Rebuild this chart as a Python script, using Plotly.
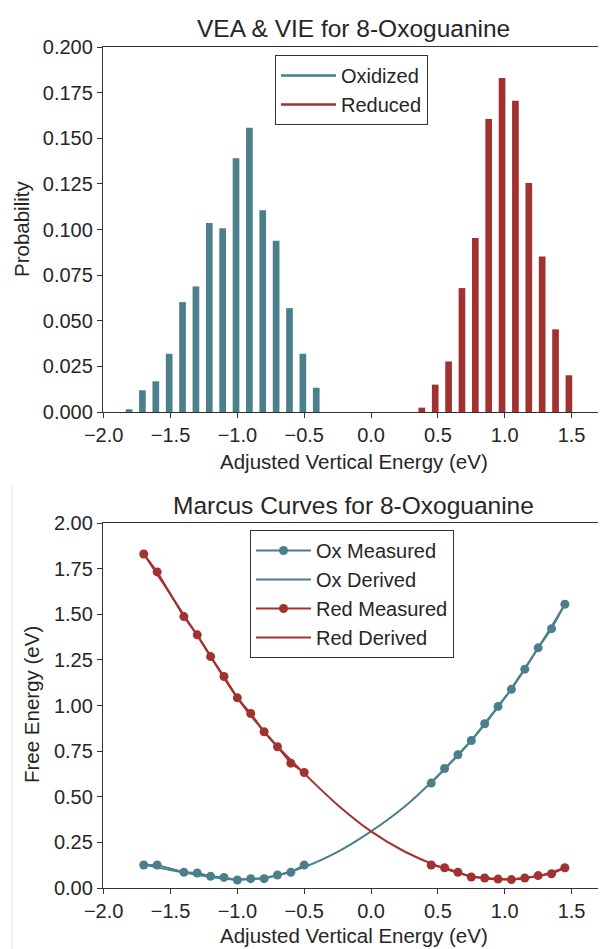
import plotly.graph_objects as go

# page body has an 8px margin: the figure is sized/positioned to compensate
OFF = 8
W, H = 606 - OFF, 949 - OFF

# ---------------- data ----------------
ox_bin_x = [-1.81, -1.71, -1.61, -1.51, -1.41, -1.31, -1.21, -1.11, -1.01, -0.91, -0.81, -0.71, -0.61, -0.51, -0.41]
ox_prob = [0.0015, 0.0119, 0.0168, 0.0319, 0.0602, 0.0688, 0.1036, 0.1007, 0.1390, 0.1557, 0.1106, 0.0938, 0.0569, 0.0319, 0.0133]

red_bin_x = [0.38, 0.48, 0.58, 0.68, 0.78, 0.88, 0.98, 1.08, 1.18, 1.28, 1.38, 1.48]
red_prob = [0.0024, 0.0150, 0.0277, 0.0679, 0.0954, 0.1606, 0.1830, 0.1706, 0.1255, 0.0852, 0.0453, 0.0201]

meas_left_x = [-1.7, -1.6, -1.4, -1.3, -1.2, -1.1, -1.0, -0.9, -0.8, -0.7, -0.6, -0.5]
meas_right_x = [0.45, 0.55, 0.65, 0.75, 0.85, 0.95, 1.05, 1.15, 1.25, 1.35, 1.45]

ox_meas_left = [0.126, 0.126, 0.086, 0.082, 0.064, 0.058, 0.044, 0.051, 0.051, 0.071, 0.086, 0.126]
ox_meas_right = [0.575, 0.655, 0.730, 0.808, 0.900, 0.995, 1.089, 1.199, 1.316, 1.421, 1.555]
red_meas_left = [1.830, 1.732, 1.487, 1.387, 1.268, 1.159, 1.042, 0.956, 0.856, 0.774, 0.684, 0.633]
red_meas_right = [0.126, 0.111, 0.086, 0.060, 0.055, 0.049, 0.046, 0.055, 0.068, 0.078, 0.111]

derived_x = [-1.7, -1.5, -1.25, -1.0, -0.75, -0.5, -0.25, 0.0, 0.25, 0.5, 0.75, 1.0, 1.25, 1.45]
ox_derived = [0.128, 0.098, 0.066, 0.046, 0.062, 0.115, 0.198, 0.310, 0.445, 0.615, 0.808, 1.042, 1.316, 1.555]
red_derived = [1.830, 1.608, 1.327, 1.042, 0.815, 0.628, 0.455, 0.310, 0.200, 0.120, 0.064, 0.046, 0.066, 0.111]

top_xticks = [-2.0, -1.5, -1.0, -0.5, 0.0, 0.5, 1.0, 1.5]

# ---------------- style ----------------
TEAL = "#4b7f8c"
RED = "#a23230"
FONT = "Liberation Sans, Arial, sans-serif"
TXT = "#262626"
AX = "#333333"


def px_x(p):
    return (p - OFF) / W


def px_y(p):
    return 1 - (p - OFF) / H


fig = go.Figure()

# top histogram
fig.add_trace(go.Bar(x=ox_bin_x, y=ox_prob, width=0.05, marker=dict(color=TEAL, line=dict(width=0)),
                     showlegend=False, xaxis="x", yaxis="y"))
fig.add_trace(go.Bar(x=red_bin_x, y=red_prob, width=0.05, marker=dict(color=RED, line=dict(width=0)),
                     showlegend=False, xaxis="x", yaxis="y"))
# legend proxies (lines)
fig.add_trace(go.Scatter(x=[None], y=[None], mode="lines", line=dict(color=TEAL, width=2.5),
                         name="Oxidized", legend="legend", xaxis="x", yaxis="y"))
fig.add_trace(go.Scatter(x=[None], y=[None], mode="lines", line=dict(color=RED, width=2.5),
                         name="Reduced", legend="legend", xaxis="x", yaxis="y"))

# bottom Marcus curves
fig.add_trace(go.Scatter(x=meas_left_x + [None] + meas_right_x, y=ox_meas_left + [None] + ox_meas_right,
                         mode="lines+markers", connectgaps=False,
                         line=dict(color=TEAL, width=2), marker=dict(color=TEAL, size=9),
                         name="Ox Measured", legend="legend2", xaxis="x2", yaxis="y2"))
fig.add_trace(go.Scatter(x=derived_x, y=ox_derived, mode="lines", line=dict(color=TEAL, width=2, shape="spline"),
                         name="Ox Derived", legend="legend2", xaxis="x2", yaxis="y2"))
fig.add_trace(go.Scatter(x=meas_left_x + [None] + meas_right_x, y=red_meas_left + [None] + red_meas_right,
                         mode="lines+markers", connectgaps=False,
                         line=dict(color=RED, width=2), marker=dict(color=RED, size=9),
                         name="Red Measured", legend="legend2", xaxis="x2", yaxis="y2"))
fig.add_trace(go.Scatter(x=derived_x, y=red_derived, mode="lines", line=dict(color=RED, width=2, shape="spline"),
                         name="Red Derived", legend="legend2", xaxis="x2", yaxis="y2"))

axis_common = dict(showline=True, linecolor=AX, linewidth=1.3, mirror=True, ticks="outside",
                   ticklen=5, tickwidth=1.2, tickcolor=AX, showgrid=False, zeroline=False,
                   automargin=False,
                   tickfont=dict(family=FONT, size=20, color=TXT), ticklabelstandoff=0)

x_domain = [px_x(103), px_x(605)]

fig.update_layout(
    template="none",
    width=W, height=H,
    margin=dict(l=0, r=0, t=0, b=0, pad=0, autoexpand=False),
    paper_bgcolor="white", plot_bgcolor="white",
    font=dict(family=FONT, color=TXT, size=20),
    barmode="overlay",
    xaxis=dict(domain=x_domain, anchor="y", range=[-2.005, 1.75], tickvals=top_xticks,
               tickformat=".1f", **axis_common),
    yaxis=dict(domain=[px_y(412), px_y(47)], anchor="x", range=[0, 0.2], dtick=0.025, tick0=0,
               tickformat=".3f", **axis_common),
    xaxis2=dict(domain=x_domain, anchor="y2", range=[-2.005, 1.75], tickvals=top_xticks,
                tickformat=".1f", **axis_common),
    yaxis2=dict(domain=[px_y(888), px_y(523)], anchor="x2", range=[0, 2.0], dtick=0.25, tick0=0,
                tickformat=".2f", **axis_common),
    legend=dict(x=px_x(275), y=px_y(55), xanchor="left", yanchor="top",
                bordercolor=AX, borderwidth=1, bgcolor="white",
                font=dict(family=FONT, size=20, color=TXT), itemwidth=55),
    legend2=dict(x=px_x(250), y=px_y(530), xanchor="left", yanchor="top",
                 bordercolor=AX, borderwidth=1, bgcolor="white",
                 font=dict(family=FONT, size=20, color=TXT), itemwidth=55),
    shapes=[dict(type="line", xref="paper", yref="paper", x0=px_x(12), x1=px_x(12),
                 y0=px_y(485), y1=0, line=dict(color="#e6e6e6", width=1))],
    annotations=[
        dict(text="VEA & VIE for 8-Oxoguanine", x=px_x(354), y=px_y(28), xref="paper", yref="paper",
             showarrow=False, font=dict(size=24.5, family=FONT, color=TXT), xanchor="center", yanchor="middle"),
        dict(text="Marcus Curves for 8-Oxoguanine", x=px_x(354), y=px_y(505), xref="paper", yref="paper",
             showarrow=False, font=dict(size=24.5, family=FONT, color=TXT), xanchor="center", yanchor="middle"),
        dict(text="Adjusted Vertical Energy (eV)", x=px_x(354), y=px_y(461), xref="paper", yref="paper",
             showarrow=False, font=dict(size=20.5, family=FONT, color=TXT), xanchor="center", yanchor="middle"),
        dict(text="Adjusted Vertical Energy (eV)", x=px_x(354), y=px_y(935), xref="paper", yref="paper",
             showarrow=False, font=dict(size=20.5, family=FONT, color=TXT), xanchor="center", yanchor="middle"),
        dict(text="Probability", x=px_x(21), y=px_y(229), xref="paper", yref="paper", textangle=-90,
             showarrow=False, font=dict(size=20.5, family=FONT, color=TXT), xanchor="center", yanchor="middle"),
        dict(text="Free Energy (eV)", x=px_x(31), y=px_y(705), xref="paper", yref="paper", textangle=-90,
             showarrow=False, font=dict(size=20.5, family=FONT, color=TXT), xanchor="center", yanchor="middle"),
    ],
)

fig.write_html("out.html")
